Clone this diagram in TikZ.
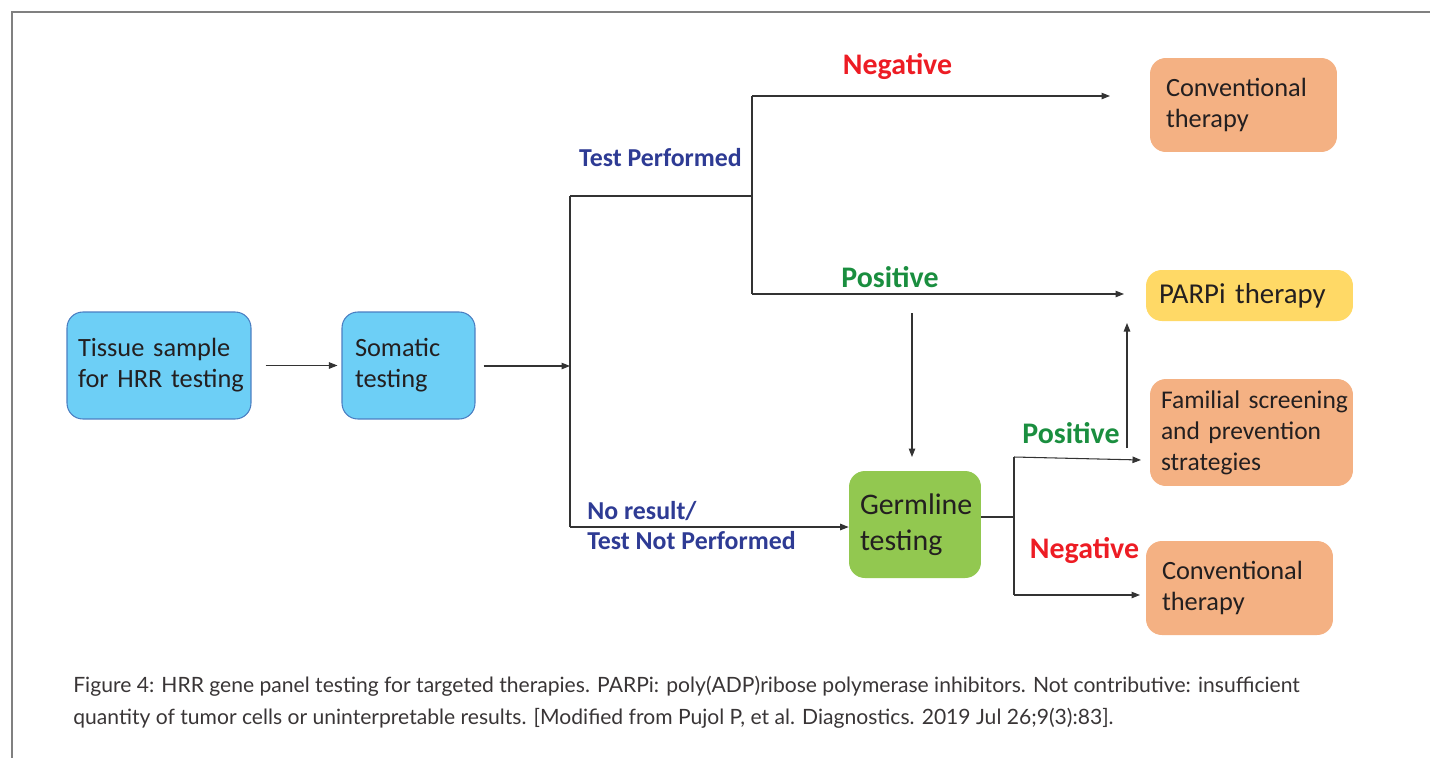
\documentclass[tikz,border=0pt]{standalone}
\usepackage{fontspec}
\setmainfont{Carlito}
\newfontfamily\capfont{Lato}
\usepackage{xcolor}
\usetikzlibrary{arrows.meta,positioning,calc}

\definecolor{somblue}{HTML}{6DCFF6}
\definecolor{somedge}{HTML}{4A7EC2}
\definecolor{germgreen}{HTML}{92C850}
\definecolor{therorange}{HTML}{F4B183}
\definecolor{parpyellow}{HTML}{FFD966}
\definecolor{boxtext}{HTML}{231F20}
\definecolor{negred}{HTML}{ED1C24}
\definecolor{posgreen}{HTML}{1A8E3F}
\definecolor{testblue}{HTML}{2E3B94}

\begin{document}
\begin{tikzpicture}[
  x=0.02cm, y=-0.02cm,
  box/.style={rectangle, rounded corners=9pt, align=left, text=boxtext,
    inner xsep=0.22cm, inner ysep=0pt, font=\fontsize{15}{17.6}\selectfont,
    execute at begin node={\hyphenpenalty=10000\hbadness=10000\hfuzz=20pt\relax}},
  bluebox/.style={box, fill=somblue, draw=somedge, line width=0.6pt},
  lbl/.style={font=\fontsize{17}{20}\selectfont\bfseries, inner sep=0pt},
  bluelbl/.style={lbl, text=testblue, font=\fontsize{14.7}{17.6}\selectfont\bfseries},
  arr/.style={-{Triangle[length=0.17cm, width=0.13cm]}, black!80, line width=0.6pt},
  ln/.style={black!80, line width=0.6pt}
]
\useasboundingbox (0,0) rectangle (1430,758);

% frame
\draw[gray, line width=1.6pt] (1430,12) -- (12,12) -- (12,758);

% left: sample and somatic testing
\node[bluebox, minimum width=3.68cm, minimum height=2.14cm, text width=3.24cm] (tissue) at (159,365.5) {Tissue~sample\\for~HRR~testing};
\node[bluebox, minimum width=2.66cm, minimum height=2.14cm, text width=2.14cm, inner xsep=0.26cm] (somatic) at (408.5,365.5) {Somatic\\testing};
\draw[arr, shorten <=0.28cm, shorten >=0.08cm] (tissue) -- (somatic);

% first split
\coordinate (split) at (570,366);
\coordinate (splittop) at (570,196);
\coordinate (splitbot) at (570,527);
\draw[arr, shorten <=0.16cm] (somatic.east |- split) -- (split);
\draw[ln] (splittop) -- (splitbot);

% test performed branch
\coordinate (perf) at (752,196);
\coordinate (perftop) at (752,96);
\coordinate (perfbot) at (752,294);
\coordinate (negend) at (1110,96);
\coordinate (posend) at (1124,294);
\draw[ln] (splittop) -- (perf);
\draw[ln] (perftop) -- (perfbot);
\draw[arr] (perftop) -- (negend);
\draw[arr] (perfbot) -- (posend);

% outcomes on the right
\node[box, fill=therorange, minimum width=3.74cm, minimum height=1.88cm, text width=3.1cm, inner xsep=0.32cm] (convtop) at (1243.5,105) {Conventional\\therapy};
\node[box, fill=parpyellow, minimum width=4.14cm, minimum height=1.02cm, text width=3.62cm, inner xsep=0.26cm, font=\fontsize{16.4}{20}\selectfont] (parp) at (1249.5,295.5) {PARPi~therapy};
\node[box, fill=therorange, minimum width=4.06cm, minimum height=2.14cm, text width=3.62cm, inner xsep=0.22cm, font=\fontsize{14.5}{17.6}\selectfont] (famil) at (1251.5,432.5) {Familial~screening\\and~prevention\\strategies};
\node[box, fill=therorange, minimum width=3.74cm, minimum height=1.88cm, text width=3.1cm, inner xsep=0.32cm] (convbot) at (1239.5,588) {Conventional\\therapy};

% germline testing
\node[box, fill=germgreen, minimum width=2.64cm, minimum height=2.14cm, text width=2.2cm, inner xsep=0.22cm, font=\fontsize{17}{20.5}\selectfont] (germ) at (915,524.5) {Germline\\testing};
\draw[arr] (splitbot) -- (splitbot -| germ.west);
\coordinate (downtop) at (912,313);
\coordinate (downend) at (912,457);
\draw[arr] (downtop) -- (downend);

% second split
\coordinate (gsplit) at (1014,517);
\coordinate (gsplittop) at (1014,457);
\coordinate (gsplitbot) at (1014,595);
\coordinate (gposend) at (1141,460);
\coordinate (gnegend) at (1140,595);
\coordinate (upstart) at (1127,448);
\coordinate (upend) at (1127,323);
\draw[ln] (germ.east |- gsplit) -- (gsplit);
\draw[ln] (gsplittop) -- (gsplitbot);
\draw[arr] (gsplittop) -- (gposend);
\draw[arr] (gsplitbot) -- (gnegend);
\draw[arr] (upstart) -- (upend);

% branch labels
\node[lbl, text=negred] (negtop) at (897.5,67) {Negative};
\node[bluelbl] (perflbl) at (660.5,158) {Test Performed};
\node[lbl, text=posgreen] (postop) at (890,277) {Positive};
\node[lbl, text=posgreen] (posbot) at (1071,433) {Positive};
\node[lbl, text=negred] (negbot) at (1084.5,551) {Negative};
\node[bluelbl, align=left, anchor=west] (noreslbl) at (587,525.5) {No result/\\Test Not Performed};

% caption
\node[anchor=west, align=left, inner sep=0pt, text=boxtext!90,
  font=\capfont\fontsize{12}{18.2}\selectfont] (caption) at (73,702)
  {Figure 4: HRR gene panel testing for targeted therapies. PARPi: poly(ADP)ribose polymerase inhibitors. Not contributive: insufficient\\quantity of tumor cells or uninterpretable results. [Modified from Pujol P, et al. Diagnostics. 2019 Jul 26;9(3):83].};

\end{tikzpicture}
\end{document}
